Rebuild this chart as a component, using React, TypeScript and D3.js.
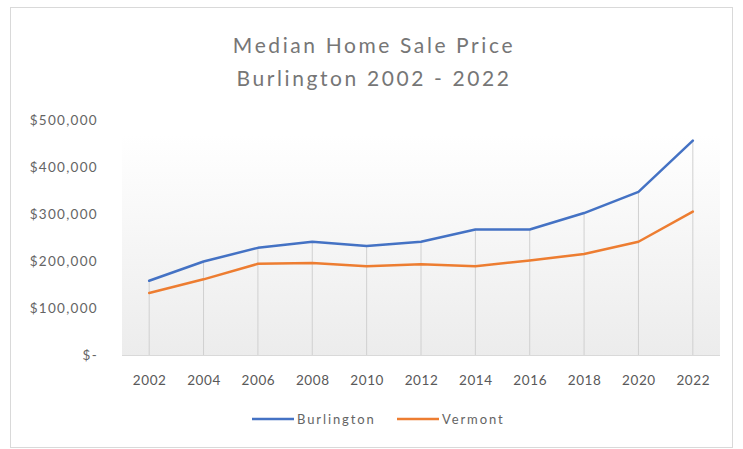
import React from "react";
import * as d3 from "d3";

const years = ["2002","2004","2006","2008","2010","2012","2014","2016","2018","2020","2022"];
const burlington = [158000,199000,228000,241000,232000,241000,267000,267000,302000,347000,456000];
const vermont = [132000,161000,194000,196000,189000,193000,189000,201000,215000,241000,305000];
const yTicks = [0,100000,200000,300000,400000,500000];
const titleLines = ["Median Home Sale Price","Burlington 2002 - 2022"];
const seriesNames = ["Burlington","Vermont"];
const colors = ["#4472C4","#ED7D31"];

export default function App() {
  const W = 743, H = 449;
  const left = 122, right = 720, top = 120, bottom = 355;
  const x = d3.scaleBand<string>().domain(years).range([left, right]);
  const y = d3.scaleLinear().domain([0, 500000]).range([bottom, top]);
  const cx = (yr: string) => (x(yr) as number) + x.bandwidth() / 2;
  const line = d3.line<number>().x((_, i) => cx(years[i])).y(d => y(d));
  const font = "Lato, 'Open Sans', sans-serif";
  const fmt = (v: number) => v === 0 ? "$-" : "$" + d3.format(",")(v);
  const series = [burlington, vermont];
  return (
    <svg width={W} height={H} style={{ position: "absolute", left: 0, top: 0 }} fontFamily={font}>
      <defs>
        <linearGradient id="bg" x1="0" y1="1" x2="0" y2="0">
          <stop offset="0" stopColor="#ececec" />
          <stop offset="1" stopColor="#ffffff" />
        </linearGradient>
      </defs>
      <rect x={0} y={0} width={W} height={H} fill="#fff" />
      <rect x={10.5} y={7.5} width={722} height={440} fill="#fff" stroke="#d9d9d9" />
      {titleLines.map((t, i) => (
        <text key={t} x={374} y={53 + i * 33} textAnchor="middle" fontSize={21} letterSpacing={2.6} fill="#767676">{t}</text>
      ))}
      <rect x={left} y={top + 15} width={right - left} height={bottom - top - 15} fill="url(#bg)" />
      {yTicks.map(t => (
        <text key={t} x={98} y={y(t) + 4.5} textAnchor="end" fontSize={13.5} letterSpacing={1.3} fill="#646464">{fmt(t)}</text>
      ))}
      {years.map((yr, i) => (
        <line key={yr} x1={cx(yr)} x2={cx(yr)} y1={y(0)} y2={y(Math.max(burlington[i], vermont[i]))} stroke="#d0d0d0" strokeWidth={1} />
      ))}
      <line x1={left} x2={right} y1={y(0) + 0.5} y2={y(0) + 0.5} stroke="#d9d9d9" />
      {years.map(yr => (
        <text key={yr} x={cx(yr) + 0.5} y={385} textAnchor="middle" fontSize={13.5} letterSpacing={0.6} fill="#595959">{yr}</text>
      ))}
      {series.map((s, i) => (
        <path key={i} d={line(s) || ""} fill="none" stroke={colors[i]} strokeWidth={2.5} strokeLinejoin="round" strokeLinecap="round" />
      ))}
      {seriesNames.map((n, i) => {
        const lx = 252 + i * 145;
        return (
          <g key={n}>
            <line x1={lx} x2={lx + 42} y1={419} y2={419} stroke={colors[i]} strokeWidth={2.5} />
            <text x={lx + 45} y={423.5} fontSize={13} letterSpacing={1.9} fill="#646464">{n}</text>
          </g>
        );
      })}
    </svg>
  );
}
